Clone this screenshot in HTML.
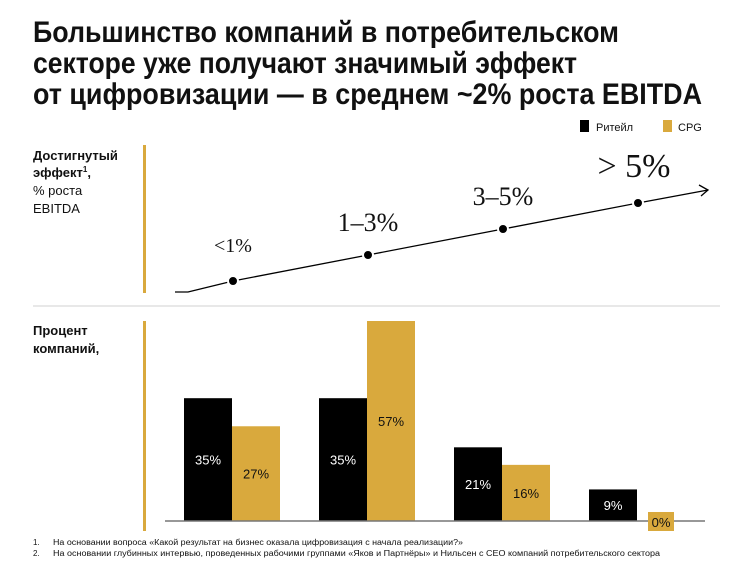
<!DOCTYPE html>
<html><head><meta charset="utf-8"><style>
body{margin:0;background:#fff;}
svg{display:block;font-family:"Liberation Sans",sans-serif;}
</style></head><body>
<svg width="751" height="574" viewBox="0 0 751 574">
<g font-weight="bold" font-size="30" fill="#111">
<text x="33" y="42" textLength="586" lengthAdjust="spacingAndGlyphs">Большинство компаний в потребительском</text>
<text x="33" y="73" textLength="544" lengthAdjust="spacingAndGlyphs">секторе уже получают значимый эффект</text>
<text x="33" y="104" textLength="669" lengthAdjust="spacingAndGlyphs">от цифровизации — в среднем ~2% роста EBITDA</text>
</g>
<g font-size="11" fill="#111">
<rect x="580" y="120" width="9" height="12" fill="#000"/>
<text x="596" y="131">Ритейл</text>
<rect x="663" y="120" width="9" height="12" fill="#d9a93d"/>
<text x="678" y="131">CPG</text>
</g>
<g font-size="13" fill="#111">
<text x="33" y="160" font-weight="bold">Достигнутый</text>
<text x="33" y="177" font-weight="bold">эффект<tspan font-size="8" dy="-5">1</tspan><tspan dy="5">,</tspan></text>
<text x="33" y="195">% роста</text>
<text x="33" y="213">EBITDA</text>
</g>
<rect x="143" y="145" width="3" height="148" fill="#d9a93d"/>
<line x1="33" y1="306" x2="720" y2="306" stroke="#d0d0d0" stroke-width="1"/>
<g font-size="13" font-weight="bold" fill="#111">
<text x="33" y="335">Процент</text>
<text x="33" y="353">компаний,</text>
</g>
<rect x="143" y="321" width="3" height="210" fill="#d9a93d"/>
<g id="line"></g>
<g id="bars"></g>
<line x1="165" y1="521" x2="705" y2="521" stroke="#777" stroke-width="1.5"/>
<g id="zero"></g>
<g font-size="8" fill="#111">
<text x="33" y="545">1.</text><text x="53" y="545" textLength="410" lengthAdjust="spacingAndGlyphs">На основании вопроса «Какой результат на бизнес оказала цифровизация с начала реализации?»</text>
<text x="33" y="556">2.</text><text x="53" y="556" textLength="607" lengthAdjust="spacingAndGlyphs">На основании глубинных интервью, проведенных рабочими группами «Яков и Партнёры» и Нильсен с CEO компаний потребительского сектора</text>
</g>
</svg>
<script>
const categories = ["<1%", "1–3%", "3–5%", "> 5%"];
const effectLevels = [1, 2, 3, 4];
const labelSizes = [20, 26, 26, 34];
const retail = [35, 35, 21, 9];
const cpg = [27, 57, 16, 0];
const NS = "http://www.w3.org/2000/svg";
function mk(tag, attrs, parent){const e=document.createElementNS(NS,tag);for(const k in attrs)e.setAttribute(k,attrs[k]);parent.appendChild(e);return e;}
const gx = i => 233 + i*135;
const ly = v => 307 - v*26;
const by = v => 521 - v*200/57;
const L = document.getElementById('line');
let pts = [[175,292],[188,292]];
effectLevels.forEach((v,i)=>pts.push([gx(i), ly(v)]));
const last = pts[pts.length-1];
const tip = [last[0]+70, last[1]-13];
pts.push(tip);
const pl = mk('polyline',{points:pts.map(p=>p.join(',')).join(' '),fill:'none',stroke:'#000','stroke-width':1.3},L);


const ah = mk('polyline',{points:`${tip[0]-9},${tip[1]-5} ${tip[0]},${tip[1]} ${tip[0]-7},${tip[1]+6}`,fill:'none',stroke:'#000','stroke-width':1.3},L);


effectLevels.forEach((v,i)=>{
  const c = mk('circle',{cx:gx(i),cy:ly(v),r:5,fill:'#000',stroke:'#fff','stroke-width':2},L);
  
  
  const t = mk('text',{x:gx(i)-(i==3?4:0),y:ly(v)-(i==3?26:i==0?29:24),'text-anchor':'middle','font-family':'"Liberation Serif",serif','font-size':labelSizes[i],fill:'#111'},L);
  t.textContent = categories[i];
  
  
});
const B = document.getElementById('bars');
const Z = document.getElementById('zero');
function bar(x,v,color,txtColor,name){
  const y = by(v);
  const r = mk('rect',{x:x,y:y,width:48,height:521-y,fill:color},B);
  
  
  if(v===0){
    const bx = mk('rect',{x:x+11,y:512,width:26,height:19,fill:color},Z);
    
    
    const t = mk('text',{x:x+24,y:527,'text-anchor':'middle','font-size':13,fill:txtColor},Z);
    t.textContent = v+'%';
    
    
  } else {
    const t = mk('text',{x:x+24,y:(y+521)/2+5,'text-anchor':'middle','font-size':13,fill:txtColor},B);
    t.textContent = v+'%';
    
    
  }
}
retail.forEach((v,i)=>bar(184+i*135,v,'#000','#fff','bar-retail'));
cpg.forEach((v,i)=>bar(232+i*135,v,'#d9a93d','#111','bar-cpg'));
</script>
</body></html>
